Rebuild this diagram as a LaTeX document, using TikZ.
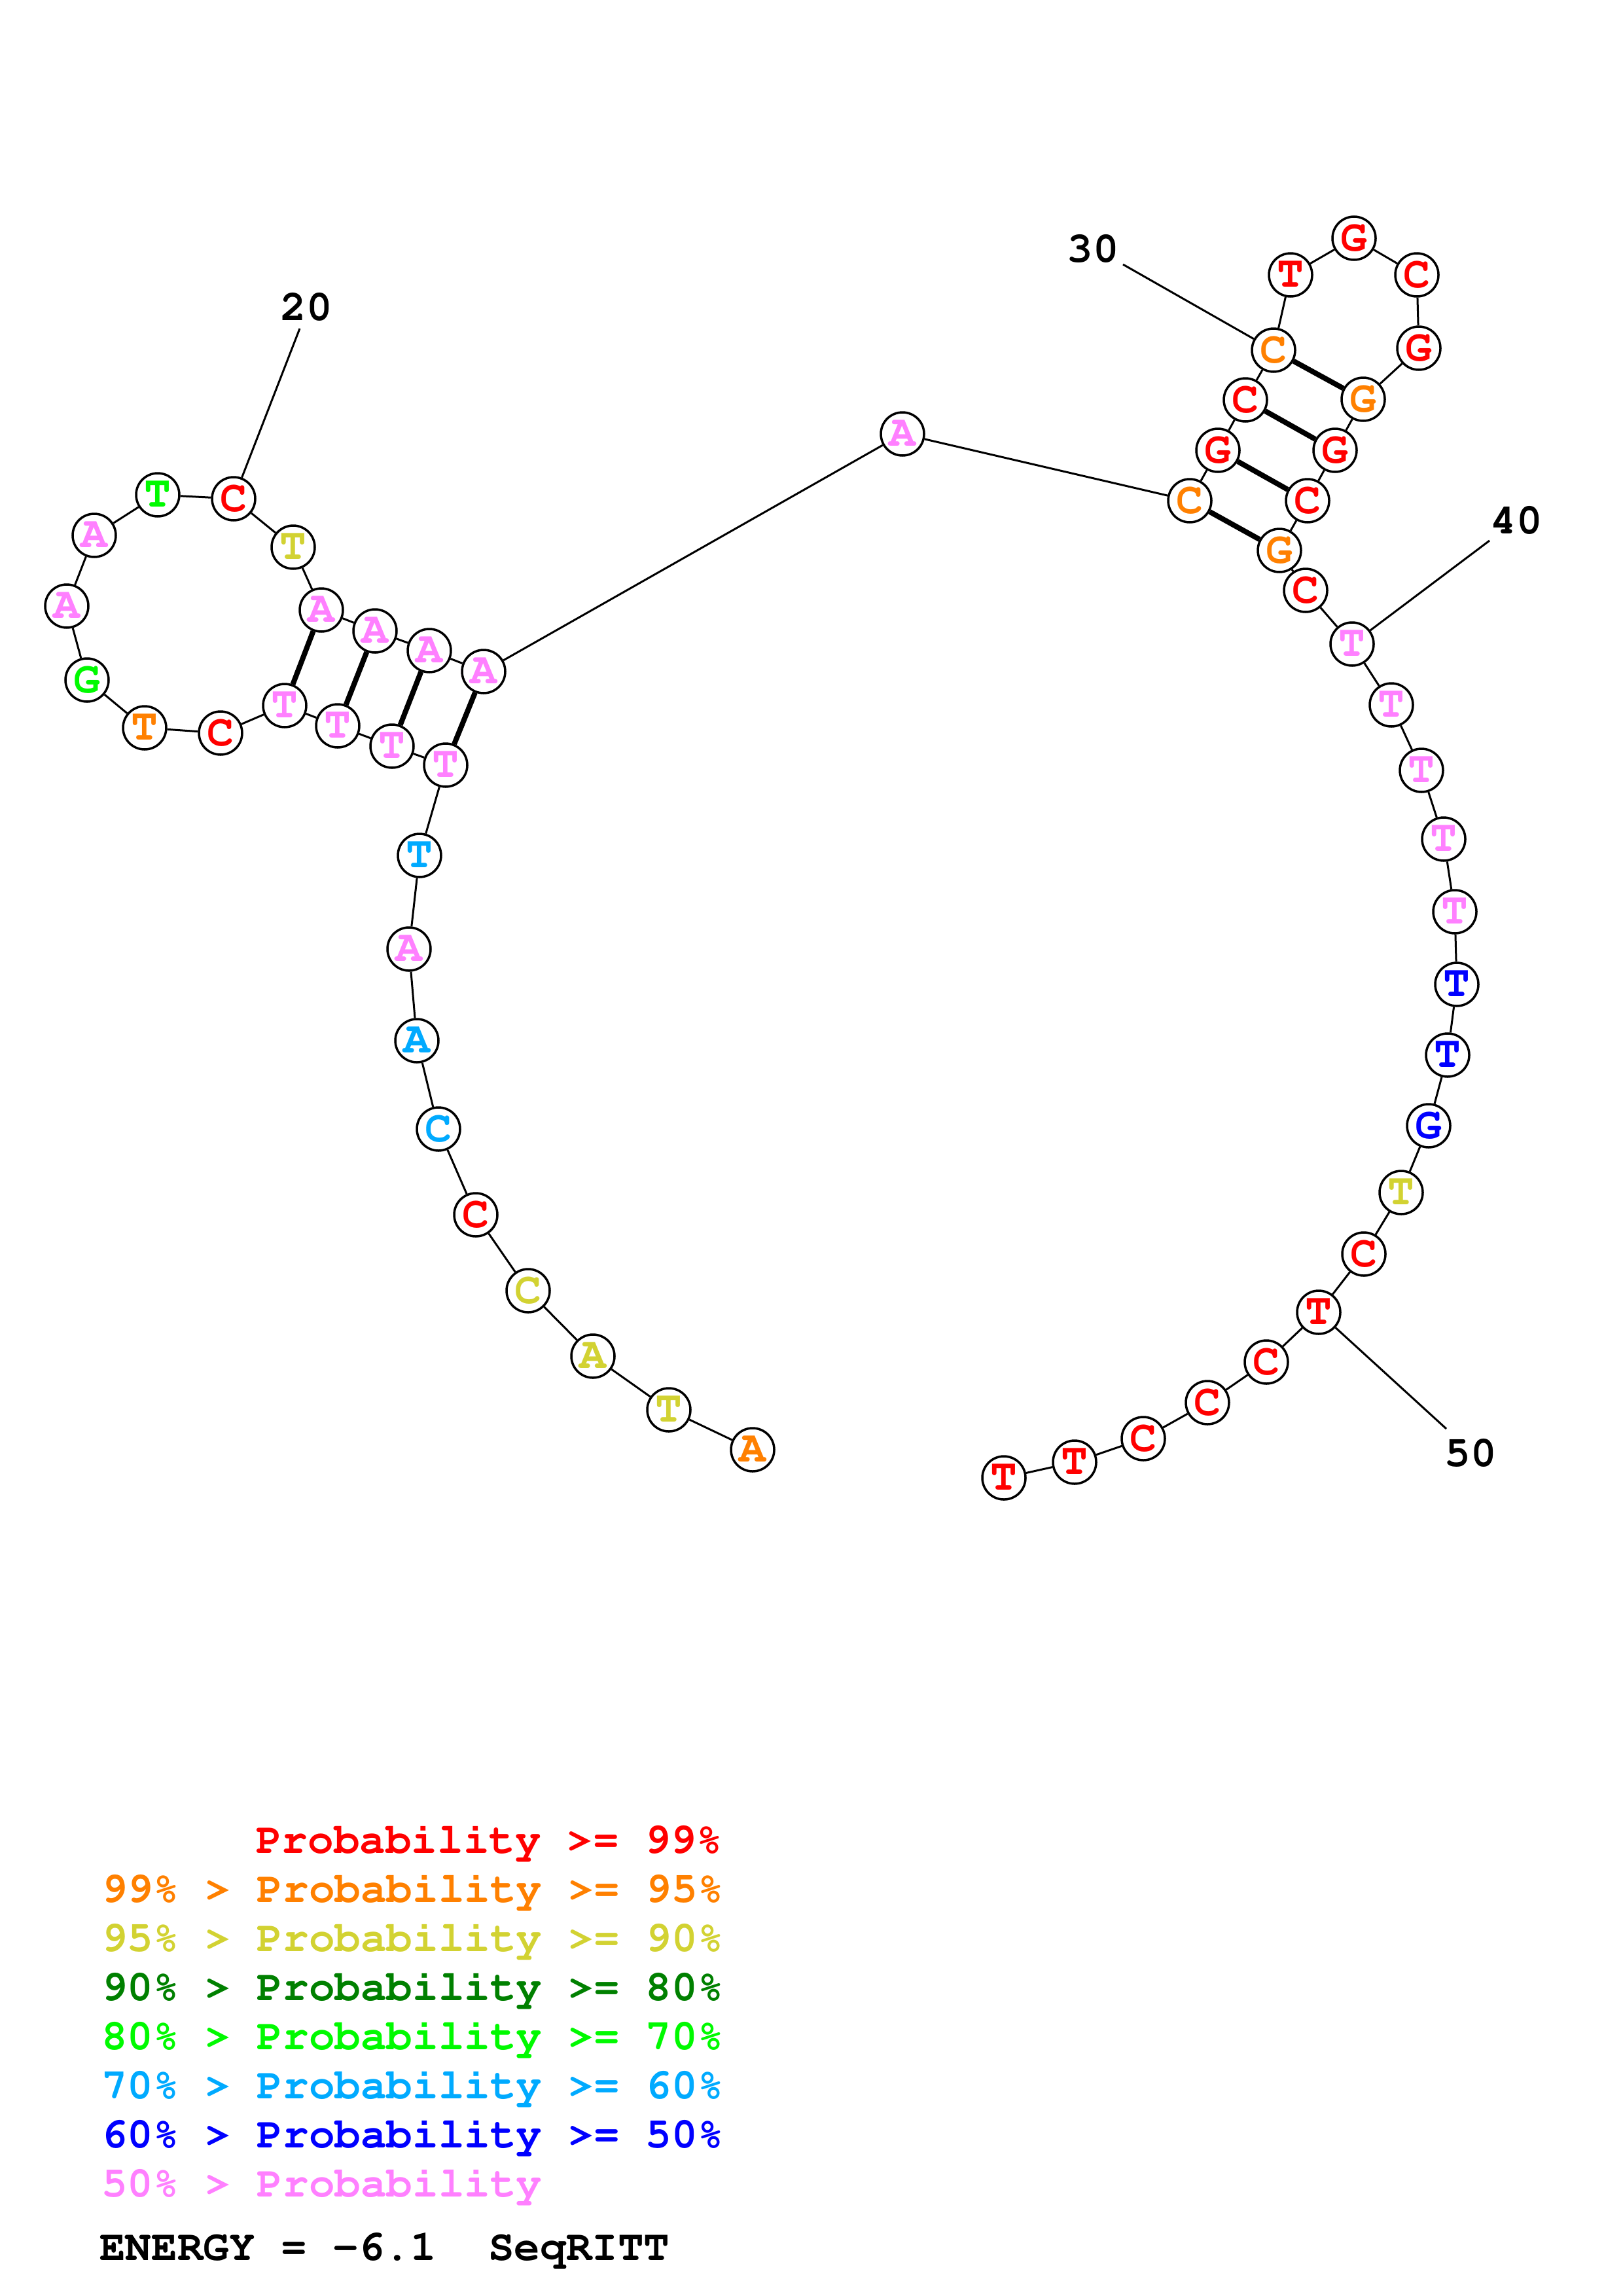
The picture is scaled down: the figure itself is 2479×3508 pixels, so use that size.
\documentclass[tikz,border=0pt]{standalone}
\usepackage[T1,TU]{fontenc}
\newcommand\courbf{\fontencoding{T1}\fontfamily{pcr}\fontseries{b}\fontshape{n}\selectfont}
\definecolor{pr}{RGB}{255,0,0}
\definecolor{po}{RGB}{255,128,0}
\definecolor{py}{RGB}{210,210,50}
\definecolor{pdg}{RGB}{0,128,0}
\definecolor{pg}{RGB}{0,250,0}
\definecolor{pc}{RGB}{0,170,255}
\definecolor{pb}{RGB}{0,0,255}
\definecolor{pp}{RGB}{255,128,255}
\tikzset{
  nt/.style={circle,draw=black,line width=3.5pt,fill=white,minimum size=66pt,inner sep=0pt,
    font=\courbf\fontsize{68}{68}\selectfont},
  bb/.style={line width=3pt},
  bond/.style={line width=8pt},
  lbl/.style={font=\courbf\fontsize{66}{66}\selectfont,inner sep=0pt},
  leg/.style={font=\courbf\fontsize{66}{66}\selectfont,inner sep=0pt,anchor=base west}
}
\begin{document}
\begin{tikzpicture}[x=1pt,y=-1pt]
\useasboundingbox (0,0) rectangle (2479,3508);
% nucleotides
\node[nt,text=po]  (n1)  at (1150,2215) {A};
\node[nt,text=py]  (n2)  at (1022,2154) {T};
\node[nt,text=py]  (n3)  at (906,2072) {A};
\node[nt,text=py]  (n4)  at (807,1972) {C};
\node[nt,text=pr]  (n5)  at (727,1856) {C};
\node[nt,text=pc]  (n6)  at (670,1725) {C};
\node[nt,text=pc]  (n7)  at (637,1590) {A};
\node[nt,text=pp]  (n8)  at (625,1450) {A};
\node[nt,text=pc]  (n9)  at (641,1307) {T};
\node[nt,text=pp]  (n10) at (681,1169) {T};
\node[nt,text=pp]  (n11) at (599,1140) {T};
\node[nt,text=pp]  (n12) at (516,1109) {T};
\node[nt,text=pp]  (n13) at (435,1078) {T};
\node[nt,text=pr]  (n14) at (337,1120) {C};
\node[nt,text=po]  (n15) at (221,1112) {T};
\node[nt,text=pg]  (n16) at (133,1039) {G};
\node[nt,text=pp]  (n17) at (102,926) {A};
\node[nt,text=pp]  (n18) at (144,818) {A};
\node[nt,text=pg]  (n19) at (241,756) {T};
\node[nt,text=pr]  (n20) at (357,762) {C};
\node[nt,text=py]  (n21) at (448,836) {T};
\node[nt,text=pp]  (n22) at (491,932) {A};
\node[nt,text=pp]  (n23) at (573,964) {A};
\node[nt,text=pp]  (n24) at (656,994) {A};
\node[nt,text=pp]  (n25) at (739,1026) {A};
\node[nt,text=pp]  (n26) at (1379,663) {A};
\node[nt,text=po]  (n27) at (1818,765) {C};
\node[nt,text=pr]  (n28) at (1861,688) {G};
\node[nt,text=pr]  (n29) at (1903,611) {C};
\node[nt,text=po]  (n30) at (1946,535) {C};
\node[nt,text=pr]  (n31) at (1972,420) {T};
\node[nt,text=pr]  (n32) at (2069,364) {G};
\node[nt,text=pr]  (n33) at (2165,420) {C};
\node[nt,text=pr]  (n34) at (2168,532) {G};
\node[nt,text=po]  (n35) at (2083,610) {G};
\node[nt,text=pr]  (n36) at (2040,688) {G};
\node[nt,text=pr]  (n37) at (1998,765) {C};
\node[nt,text=po]  (n38) at (1955,841) {G};
\node[nt,text=pr]  (n39) at (1995,902) {C};
\node[nt,text=pp]  (n40) at (2066,984) {T};
\node[nt,text=pp]  (n41) at (2126,1077) {T};
\node[nt,text=pp]  (n42) at (2172,1177) {T};
\node[nt,text=pp]  (n43) at (2206,1282) {T};
\node[nt,text=pp]  (n44) at (2223,1393) {T};
\node[nt,text=pb]  (n45) at (2226,1504) {T};
\node[nt,text=pb]  (n46) at (2212,1612) {T};
\node[nt,text=pb]  (n47) at (2183,1720) {G};
\node[nt,text=py]  (n48) at (2141,1822) {T};
\node[nt,text=pr]  (n49) at (2084,1916) {C};
\node[nt,text=pr]  (n50) at (2015,2005) {T};
\node[nt,text=pr]  (n51) at (1935,2081) {C};
\node[nt,text=pr]  (n52) at (1845,2143) {C};
\node[nt,text=pr]  (n53) at (1747,2198) {C};
\node[nt,text=pr]  (n54) at (1642,2234) {T};
\node[nt,text=pr]  (n55) at (1534,2258) {T};
% backbone
\foreach \a/\b in {1/2,2/3,3/4,4/5,5/6,6/7,7/8,8/9,9/10,10/11,11/12,12/13,13/14,14/15,15/16,16/17,17/18,18/19,19/20,20/21,21/22,22/23,23/24,24/25,25/26,26/27,27/28,28/29,29/30,30/31,31/32,32/33,33/34,34/35,35/36,36/37,37/38,38/39,39/40,40/41,41/42,42/43,43/44,44/45,45/46,46/47,47/48,48/49,49/50,50/51,51/52,52/53,53/54,54/55}
  \draw[bb] (n\a) -- (n\b);
% pairs
\foreach \a/\b in {10/25,11/24,12/23,13/22,27/38,28/37,29/36,30/35}
  \draw[bond] (n\a) -- (n\b);
% number labels
\node[lbl] (t20) at (468,469) {20};
\node[lbl] (t30) at (1670,380) {30};
\node[lbl] (t40) at (2317,795) {40};
\node[lbl] (t50) at (2247,2220) {50};
\coordinate (c20) at (458,502);
\coordinate (c30) at (1716,404);
\coordinate (c40) at (2276,826);
\coordinate (c50) at (2210,2183);
\draw[bb] (c20) -- (n20);
\draw[bb] (c30) -- (n30);
\draw[bb] (c40) -- (n40);
\draw[bb] (c50) -- (n50);
% legend
\node[leg,text=pr]  (g1) at (391,2831) {Probability >= 99\%};
\node[leg,text=po]  (g2) at (155,2906) {99\% > Probability >= 95\%};
\node[leg,text=py]  (g3) at (155,2981) {95\% > Probability >= 90\%};
\node[leg,text=pdg] (g4) at (155,3056) {90\% > Probability >= 80\%};
\node[leg,text=pg]  (g5) at (155,3131) {80\% > Probability >= 70\%};
\node[leg,text=pc]  (g6) at (155,3206) {70\% > Probability >= 60\%};
\node[leg,text=pb]  (g7) at (155,3281) {60\% > Probability >= 50\%};
\node[leg,text=pp]  (g8) at (155,3356) {50\% > Probability};
\node[leg,text=black] (g9) at (152,3453) {ENERGY = -6.1\ \ SeqRITT};
\end{tikzpicture}
\end{document}
